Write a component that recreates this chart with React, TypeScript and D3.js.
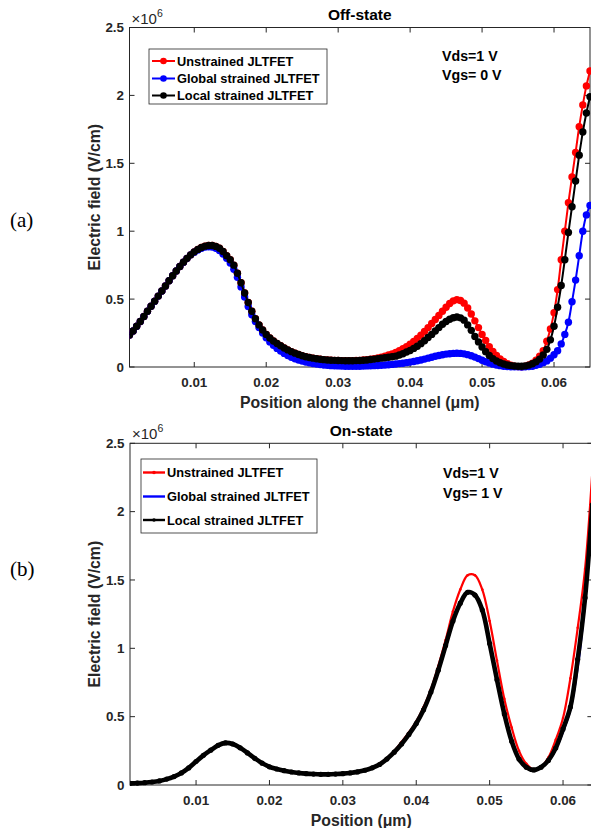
import React from "react";
import * as d3 from "d3";

// ---------------- DATA ----------------
// Off-state: positions start at 0.001 µm, sampled every 0.0005 µm
const OFF_X_START = 0.001;
const OFF_X_STEP = 0.0005;
// Electric field (×10^6 V/cm)
const OFF_UNSTRAINED = [
  0.235, 0.265, 0.3, 0.335, 0.372, 0.41, 0.447, 0.485, 0.522, 0.56,
  0.597, 0.635, 0.672, 0.707, 0.74, 0.772, 0.8, 0.826, 0.848, 0.866,
  0.88, 0.89, 0.895, 0.895, 0.888, 0.875, 0.85, 0.82, 0.79, 0.75,
  0.69, 0.62, 0.545, 0.475, 0.41, 0.355, 0.31, 0.272, 0.24, 0.214,
  0.192, 0.173, 0.156, 0.14, 0.126, 0.113, 0.102, 0.092, 0.083, 0.076,
  0.07, 0.065, 0.061, 0.057, 0.054, 0.052, 0.05, 0.049, 0.048, 0.047,
  0.046, 0.046, 0.046, 0.048, 0.049, 0.051, 0.054, 0.058, 0.062, 0.067,
  0.073, 0.08, 0.088, 0.097, 0.108, 0.12, 0.134, 0.15, 0.168, 0.188,
  0.21, 0.235, 0.262, 0.29, 0.32, 0.35, 0.38, 0.41, 0.44, 0.468,
  0.487, 0.496, 0.49, 0.47, 0.435, 0.39, 0.34, 0.29, 0.24, 0.195,
  0.15, 0.115, 0.085, 0.06, 0.04, 0.025, 0.013, 0.006, 0.003, 0.002,
  0.006, 0.015, 0.028, 0.05, 0.08, 0.12, 0.19, 0.28, 0.4, 0.57,
  0.79, 1.0, 1.21, 1.4, 1.58, 1.77, 1.93, 2.07, 2.18,
];
const OFF_GLOBAL = [
  0.235, 0.265, 0.3, 0.335, 0.372, 0.41, 0.447, 0.485, 0.522, 0.56,
  0.597, 0.635, 0.672, 0.707, 0.74, 0.772, 0.8, 0.826, 0.845, 0.862,
  0.875, 0.883, 0.886, 0.884, 0.875, 0.858, 0.832, 0.8, 0.765, 0.72,
  0.66, 0.59, 0.515, 0.445, 0.385, 0.335, 0.29, 0.25, 0.215, 0.185,
  0.16, 0.137, 0.117, 0.1, 0.085, 0.072, 0.061, 0.052, 0.044, 0.037,
  0.031, 0.026, 0.022, 0.018, 0.015, 0.012, 0.01, 0.009, 0.008, 0.007,
  0.006, 0.006, 0.006, 0.006, 0.006, 0.007, 0.008, 0.009, 0.01, 0.011,
  0.013, 0.015, 0.017, 0.019, 0.022, 0.025, 0.028, 0.032, 0.036, 0.041,
  0.046, 0.052, 0.058, 0.065, 0.072, 0.079, 0.085, 0.09, 0.095, 0.098,
  0.1, 0.101, 0.1, 0.097, 0.091, 0.083, 0.073, 0.062, 0.05, 0.039,
  0.029, 0.021, 0.015, 0.01, 0.006, 0.004, 0.002, 0.001, 0.001, 0.0,
  0.001, 0.003, 0.006, 0.012, 0.02, 0.032, 0.045, 0.065, 0.09, 0.12,
  0.17, 0.24, 0.33, 0.48, 0.64, 0.82, 1.0, 1.12, 1.19,
];
const OFF_LOCAL = [
  0.235, 0.265, 0.3, 0.335, 0.372, 0.41, 0.447, 0.485, 0.522, 0.56,
  0.597, 0.635, 0.672, 0.707, 0.74, 0.772, 0.8, 0.826, 0.848, 0.866,
  0.88, 0.89, 0.895, 0.895, 0.888, 0.875, 0.85, 0.82, 0.79, 0.75,
  0.69, 0.62, 0.545, 0.475, 0.41, 0.355, 0.31, 0.272, 0.24, 0.214,
  0.192, 0.173, 0.156, 0.14, 0.126, 0.113, 0.102, 0.092, 0.083, 0.076,
  0.07, 0.065, 0.061, 0.057, 0.054, 0.052, 0.05, 0.049, 0.048, 0.047,
  0.046, 0.046, 0.046, 0.047, 0.048, 0.05, 0.052, 0.055, 0.058, 0.062,
  0.065, 0.068, 0.072, 0.076, 0.08, 0.088, 0.098, 0.11, 0.122, 0.137,
  0.153, 0.172, 0.193, 0.217, 0.24, 0.265, 0.29, 0.315, 0.335, 0.352,
  0.363, 0.368, 0.362, 0.345, 0.31, 0.27, 0.225, 0.185, 0.147, 0.113,
  0.085, 0.062, 0.044, 0.031, 0.022, 0.015, 0.01, 0.007, 0.006, 0.005,
  0.008, 0.014, 0.024, 0.038, 0.058, 0.088, 0.13, 0.2, 0.3, 0.44,
  0.6, 0.79, 0.99, 1.18, 1.37, 1.56, 1.73, 1.87, 1.99,
];

// On-state: positions start at 0.001 µm, sampled every 0.001 µm
const ON_X_START = 0.001;
const ON_X_STEP = 0.001;
const ON_UNSTRAINED = [
  0.012, 0.014, 0.017, 0.022, 0.03, 0.043, 0.062, 0.088, 0.125, 0.172,
  0.217, 0.255, 0.29, 0.308, 0.3, 0.272, 0.235, 0.195, 0.16, 0.133,
  0.117, 0.105, 0.095, 0.088, 0.083, 0.08, 0.078, 0.078, 0.08, 0.083,
  0.09, 0.099, 0.112, 0.13, 0.156, 0.196, 0.248, 0.315, 0.385, 0.465,
  0.57, 0.7, 0.87, 1.06, 1.27, 1.43, 1.535, 1.535, 1.43, 1.2,
  0.91, 0.63, 0.42, 0.25, 0.155, 0.112, 0.13, 0.2, 0.33, 0.49,
  0.78, 1.15, 1.58, 2.3,
];
const ON_GLOBAL = [
  0.012, 0.014, 0.017, 0.022, 0.03, 0.043, 0.062, 0.088, 0.125, 0.172,
  0.217, 0.255, 0.29, 0.308, 0.3, 0.272, 0.235, 0.195, 0.16, 0.133,
  0.117, 0.105, 0.095, 0.088, 0.083, 0.08, 0.078, 0.078, 0.08, 0.083,
  0.088, 0.096, 0.108, 0.126, 0.15, 0.19, 0.24, 0.3, 0.37, 0.45,
  0.55, 0.68, 0.84, 1.02, 1.2, 1.33, 1.405, 1.385, 1.275, 1.03,
  0.765, 0.515, 0.318, 0.19, 0.13, 0.11, 0.128, 0.175, 0.26, 0.39,
  0.55, 0.86, 1.34, 2.0,
];
const ON_LOCAL = [
  0.012, 0.014, 0.017, 0.022, 0.03, 0.043, 0.062, 0.088, 0.125, 0.172,
  0.217, 0.255, 0.29, 0.308, 0.3, 0.272, 0.235, 0.195, 0.16, 0.133,
  0.117, 0.105, 0.095, 0.088, 0.083, 0.08, 0.078, 0.078, 0.08, 0.083,
  0.088, 0.096, 0.108, 0.126, 0.15, 0.19, 0.24, 0.3, 0.37, 0.45,
  0.55, 0.68, 0.84, 1.02, 1.2, 1.33, 1.41, 1.39, 1.28, 1.035,
  0.77, 0.52, 0.32, 0.19, 0.13, 0.11, 0.13, 0.18, 0.27, 0.41,
  0.57, 0.92, 1.37, 2.05,
];

const SERIES_NAMES = ["Unstrained JLTFET", "Global strained JLTFET", "Local strained JLTFET"];
const SERIES_COLORS = ["#ff0000", "#0000ff", "#000000"];
const X_TICKS = [0.01, 0.02, 0.03, 0.04, 0.05, 0.06];
const Y_TICKS = [0, 0.5, 1, 1.5, 2, 2.5];

// ---------------- RENDERING ----------------
const FONT = "'Liberation Sans', Arial, Helvetica, sans-serif";
const AXIS_COLOR = "#262626";

type Frame = { left: number; right: number; top: number; bottom: number };

type PanelProps = {
  frame: Frame;
  xDomain: [number, number];
  xStart: number;
  xStep: number;
  series: number[][];
  mode: "off" | "on";
  title: string;
  xLabel: string;
  panelLabel: string;
  panelLabelY: number;
  legend: { x: number; y: number; w: number; h: number; rows: number[]; lineX1: number; lineX2: number; textX: number };
  notes: { x: number; ys: number[]; lines: string[] };
};

function Panel(p: PanelProps) {
  const { frame } = p;
  const x = d3.scaleLinear().domain(p.xDomain).range([frame.left, frame.right]);
  const y = d3.scaleLinear().domain([0, 2.5]).range([frame.bottom, frame.top]);
  const line = d3
    .line<number>()
    .x((_, i) => x(p.xStart + i * p.xStep))
    .y((d) => y(d))
    .curve(d3.curveCatmullRom.alpha(0.5));
  const tick = 5;
  const clipId = "clip-" + p.mode;

  return (
    <g>
      <defs>
        <clipPath id={clipId}>
          <rect x={frame.left} y={frame.top - 10} width={frame.right - frame.left + 20} height={frame.bottom - frame.top + 20} />
        </clipPath>
      </defs>
      {/* axes box */}
      <rect x={frame.left} y={frame.top} width={frame.right - frame.left} height={frame.bottom - frame.top} fill="none" stroke={AXIS_COLOR} strokeWidth={1} />
      {X_TICKS.map((t) => (
        <g key={"xt" + t}>
          <line x1={x(t)} x2={x(t)} y1={frame.bottom} y2={frame.bottom - tick} stroke={AXIS_COLOR} />
          <line x1={x(t)} x2={x(t)} y1={frame.top} y2={frame.top + tick} stroke={AXIS_COLOR} />
          <text x={x(t)} y={frame.bottom + 20} textAnchor="middle" fontFamily={FONT} fontWeight="bold" fontSize={13.4} fill={AXIS_COLOR}>
            {d3.format(".2f")(t)}
          </text>
        </g>
      ))}
      {Y_TICKS.map((t) => (
        <g key={"yt" + t}>
          <line x1={frame.left} x2={frame.left + tick} y1={y(t)} y2={y(t)} stroke={AXIS_COLOR} />
          <line x1={frame.right} x2={frame.right - tick} y1={y(t)} y2={y(t)} stroke={AXIS_COLOR} />
          <text x={frame.left - 5.5} y={y(t) + 4.6} textAnchor="end" fontFamily={FONT} fontWeight="bold" fontSize={13.4} fill={AXIS_COLOR}>
            {String(t)}
          </text>
        </g>
      ))}
      {/* exponent */}
      <text x={frame.left + 2} y={frame.top - 4} fontFamily={FONT} fontSize={15} fill={AXIS_COLOR}>
        ×10
        <tspan dy={-7} fontSize={10.5}>6</tspan>
      </text>
      {/* title */}
      <text x={(frame.left + frame.right) / 2} y={frame.top - 7.5} textAnchor="middle" fontFamily={FONT} fontWeight="bold" fontSize={15.5} fill="#000">
        {p.title}
      </text>
      {/* x label */}
      <text x={(frame.left + frame.right) / 2} y={frame.bottom + 40.5} textAnchor="middle" fontFamily={FONT} fontWeight="bold" fontSize={15.8} fill={AXIS_COLOR}>
        {p.xLabel}
      </text>
      {/* y label */}
      <text
        transform={`translate(99.5,${(frame.top + frame.bottom) / 2}) rotate(-90)`}
        textAnchor="middle"
        fontFamily={FONT}
        fontWeight="bold"
        fontSize={15.8}
        fill={AXIS_COLOR}
      >
        Electric field (V/cm)
      </text>
      {/* panel label */}
      <text x={10} y={p.panelLabelY} fontFamily="'Liberation Serif', 'Times New Roman', serif" fontSize={21} fill="#000">
        {p.panelLabel}
      </text>

      {/* series */}
      <g clipPath={`url(#${clipId})`}>
        {p.series.map((vals, si) => {
          const color = SERIES_COLORS[si];
          if (p.mode === "off") {
            return (
              <g key={"s" + si}>
                <path d={line(vals) || ""} fill="none" stroke={color} strokeWidth={2} />
                {vals.map((v, i) => (
                  <circle key={i} cx={x(p.xStart + i * p.xStep)} cy={y(v)} r={3.7} fill={color} />
                ))}
              </g>
            );
          }
          const w = si === 2 ? 4.6 : 2.2;
          return (
            <g key={"s" + si}>
              <path d={line(vals) || ""} fill="none" stroke={color} strokeWidth={w} strokeLinejoin="round" />
              {si !== 1 &&
                vals.map((v, i) => (
                  <circle key={i} cx={x(p.xStart + i * p.xStep)} cy={y(v)} r={si === 2 ? 2.6 : 1.3} fill={color} />
                ))}
            </g>
          );
        })}
      </g>

      {/* legend */}
      <rect x={p.legend.x} y={p.legend.y} width={p.legend.w} height={p.legend.h} fill="#fff" stroke={AXIS_COLOR} strokeWidth={0.8} />
      {SERIES_NAMES.map((name, si) => {
        const ry = p.legend.rows[si];
        const color = SERIES_COLORS[si];
        const mid = (p.legend.lineX1 + p.legend.lineX2) / 2;
        return (
          <g key={"lg" + si}>
            <line x1={p.legend.lineX1} x2={p.legend.lineX2} y1={ry} y2={ry} stroke={color} strokeWidth={p.mode === "off" ? 2 : 2.4} />
            {p.mode === "off" ? (
              <circle cx={mid} cy={ry} r={3.3} fill={color} />
            ) : si !== 1 ? (
              <circle cx={mid} cy={ry} r={1.8} fill={color} />
            ) : null}
            <text x={p.legend.textX} y={ry + 4.6} fontFamily={FONT} fontWeight="bold" fontSize={12.8} fill="#000">
              {name}
            </text>
          </g>
        );
      })}

      {/* notes */}
      {p.notes.lines.map((l, i) => (
        <text key={"n" + i} x={p.notes.x} y={p.notes.ys[i]} fontFamily={FONT} fontWeight="bold" fontSize={14.2} fill="#000" style={{ whiteSpace: "pre" }}>
          {l}
        </text>
      ))}
    </g>
  );
}

export default function App() {
  return (
    <svg
      width={591}
      height={828}
      viewBox="0 0 591 828"
      style={{ position: "absolute", left: 0, top: 0, display: "block", background: "#fff" }}
    >
      <rect x={0} y={0} width={591} height={828} fill="#fff" />
      <Panel
        frame={{ left: 129.5, right: 590, top: 27.5, bottom: 367 }}
        xDomain={[0.001, 0.065]}
        xStart={OFF_X_START}
        xStep={OFF_X_STEP}
        series={[OFF_UNSTRAINED, OFF_GLOBAL, OFF_LOCAL]}
        mode="off"
        title="Off-state"
        xLabel="Position along the channel (μm)"
        panelLabel="(a)"
        panelLabelY={227}
        legend={{ x: 149, y: 49, w: 178, h: 55, rows: [61, 78.5, 95.5], lineX1: 152, lineX2: 175, textX: 177 }}
        notes={{ x: 442, ys: [61, 79.5], lines: ["Vds=1 V", "Vgs= 0 V"] }}
      />
      <Panel
        frame={{ left: 130, right: 592.4, top: 443.3, bottom: 785 }}
        xDomain={[0.001, 0.064]}
        xStart={ON_X_START}
        xStep={ON_X_STEP}
        series={[ON_UNSTRAINED, ON_GLOBAL, ON_LOCAL]}
        mode="on"
        title="On-state"
        xLabel="Position (μm)"
        panelLabel="(b)"
        panelLabelY={576}
        legend={{ x: 141, y: 459, w: 176, h: 74, rows: [472.5, 496.5, 520], lineX1: 143, lineX2: 165, textX: 167 }}
        notes={{ x: 443, ys: [478, 497.5], lines: ["Vds=1 V", "Vgs= 1 V"] }}
      />
    </svg>
  );
}
